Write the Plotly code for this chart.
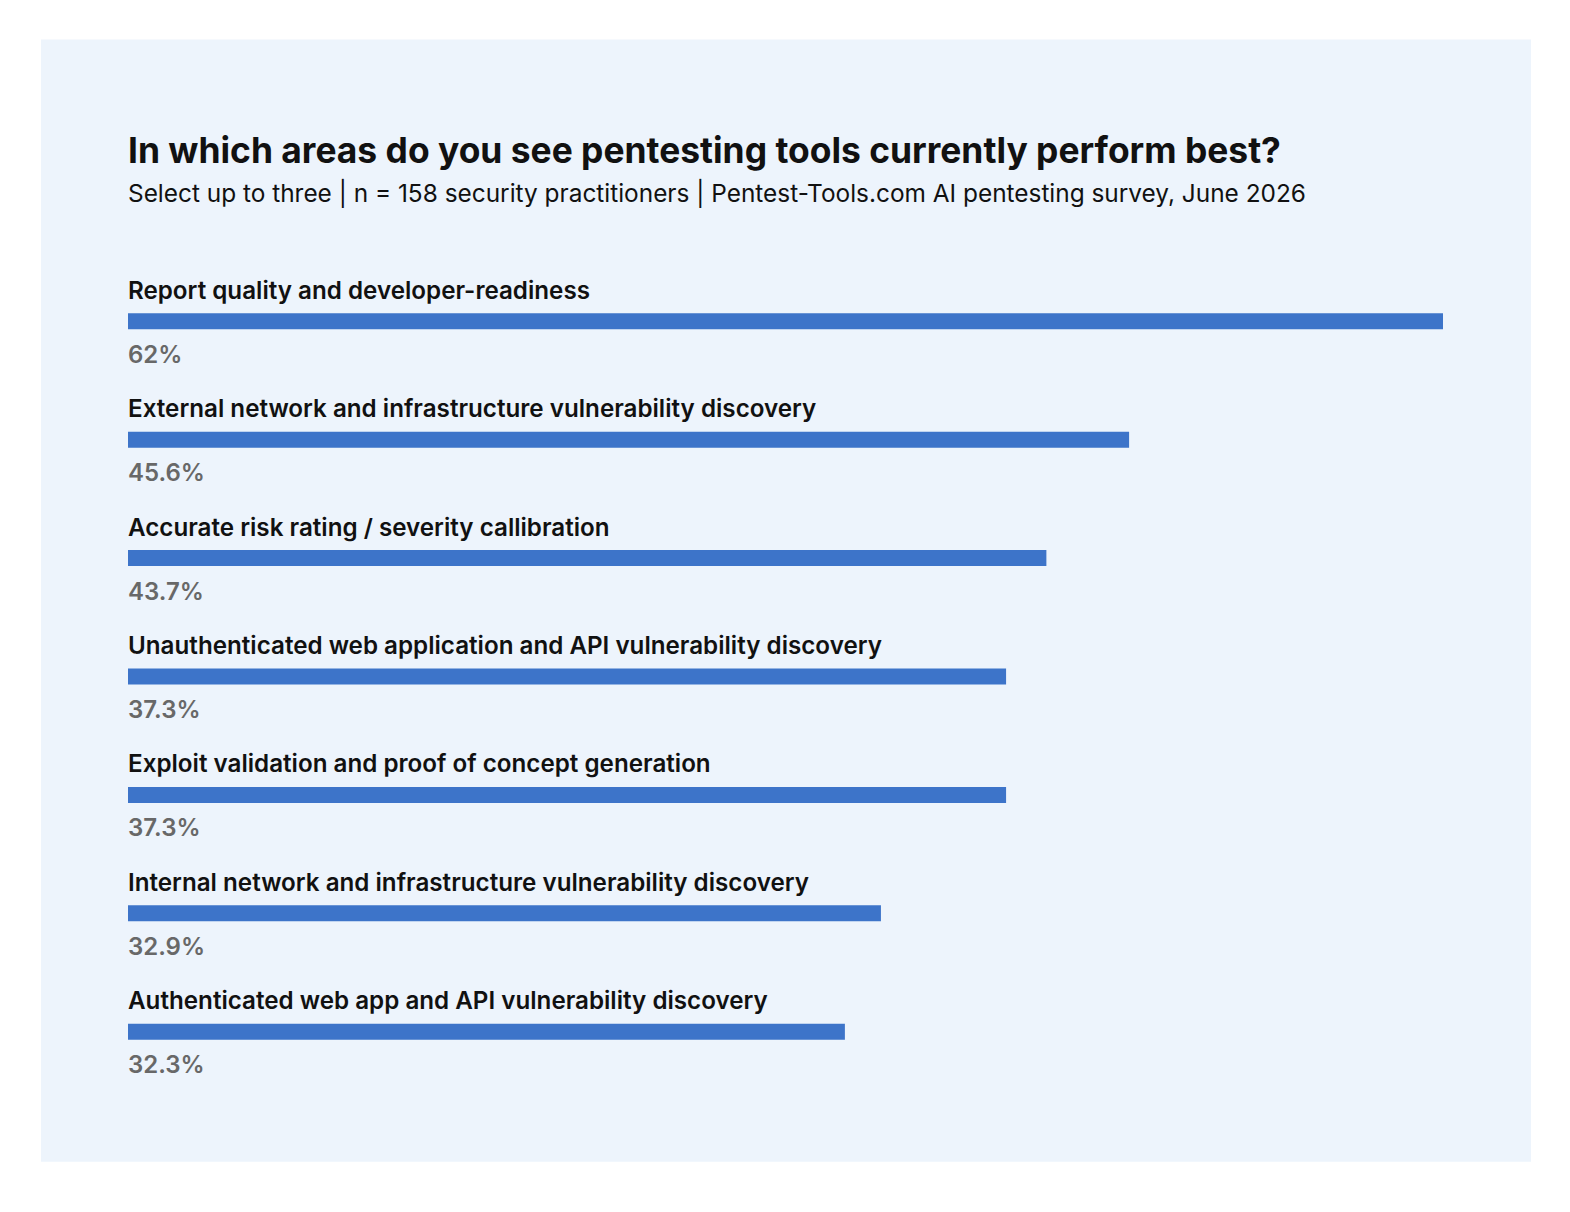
import plotly.graph_objects as go

# ---- data ----
categories = [
    "Report quality and developer-readiness",
    "External network and infrastructure vulnerability discovery",
    "Accurate risk rating / severity callibration",
    "Unauthenticated web application and API vulnerability discovery",
    "Exploit validation and proof of concept generation",
    "Internal network and infrastructure vulnerability discovery",
    "Authenticated web app and API vulnerability discovery",
]
value_labels = ["62%", "45.6%", "43.7%", "37.3%", "37.3%", "32.9%", "32.3%"]
# bar lengths as drawn in the picture (percent scale, top bar = 62)
bar_lengths = [62.0, 47.2, 43.3, 41.4, 41.4, 35.5, 33.8]

title = "In which areas do you see pentesting tools currently perform best?"
subtitle = ("Select up to three | n = 158 security practitioners | "
            "Pentest-Tools.com AI pentesting survey, June 2026")

# ---- styling ----
OFF = 8  # default page body margin
W, H = 1570 - OFF, 1212 - OFF
FONT = "Inter"
BAR = "#3d74c9"
PANEL = "#edf4fc"
ROW_PX = 118.5
ML = 128 - OFF
MR = W - (1443 - OFF)
PLOT_TOP = 321 - OFF - ROW_PX / 2
PLOT_H = ROW_PX * len(categories)
MT = PLOT_TOP
MB = H - PLOT_TOP - PLOT_H
PLOT_W = W - ML - MR
XS = -2  # compensate annotation padding

def py(px):
    return (PLOT_TOP + PLOT_H - (px - OFF)) / PLOT_H

def pxx(px):
    return ((px - OFF) - ML) / PLOT_W

rows = list(range(len(categories)))

fig = go.Figure(go.Bar(
    x=bar_lengths, y=rows, orientation="h",
    width=16 / ROW_PX, marker=dict(color=BAR, line=dict(width=0)),
    hoverinfo="skip",
))

ann = []
for r, cat, lab in zip(rows, categories, value_labels):
    ann.append(dict(x=0, xref="paper", y=r, yref="y", text=cat, showarrow=False,
                    xanchor="left", yanchor="middle", yshift=31, xshift=XS,
                    font=dict(family=FONT, size=24.2, color="#111111", weight=600)))
    ann.append(dict(x=0, xref="paper", y=r, yref="y", text=lab, showarrow=False,
                    xanchor="left", yanchor="middle", yshift=-33, xshift=XS,
                    font=dict(family=FONT, size=24, color="#686868", weight=600)))

ann.append(dict(x=0, xref="paper", y=py(150), yref="paper", text=title, showarrow=False,
                xanchor="left", yanchor="middle", xshift=XS,
                font=dict(family=FONT, size=35.4, color="#111111", weight=700)))
ann.append(dict(x=0, xref="paper", y=py(193), yref="paper", text=subtitle, showarrow=False,
                xanchor="left", yanchor="middle", xshift=XS,
                font=dict(family=FONT, size=24.4, color="#111111", weight=400)))

fig.update_layout(
    width=W, height=H,
    margin=dict(l=ML, r=MR, t=MT, b=MB, pad=0),
    paper_bgcolor="white", plot_bgcolor=PANEL,
    showlegend=False,
    annotations=ann,
    shapes=[dict(type="rect", xref="paper", yref="paper",
                 x0=pxx(41), x1=pxx(1531), y0=py(1162), y1=py(39),
                 fillcolor=PANEL, line=dict(width=0), layer="below")],
    xaxis=dict(range=[0, 62], visible=False, fixedrange=True),
    yaxis=dict(range=[len(categories) - 0.5, -0.5], visible=False, fixedrange=True),
)

fig.write_html("out.html", config={"displayModeBar": False})
